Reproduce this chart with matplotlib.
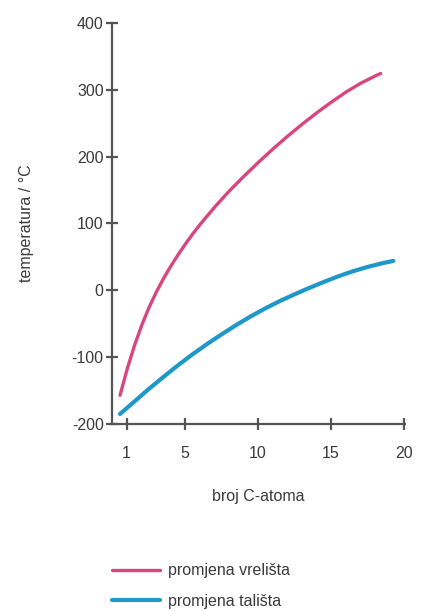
import numpy as np
import matplotlib
matplotlib.use("Agg")
import matplotlib.pyplot as plt

plt.rcParams['font.family'] = ['Liberation Sans', 'DejaVu Sans']
plt.rcParams['axes.unicode_minus'] = False

# values (broj C-atoma, temperatura / °C)
vreliste_x = [0.55, 1.05, 1.55, 2.05, 2.55, 3.05, 3.55, 4.05, 4.55, 5.05,
              5.55, 6.05, 7.05, 8.05, 9.05, 10.05, 11.05, 12.05, 13.05,
              14.05, 15.05, 16.05, 17.05, 18.05, 18.4]
vreliste_y = [-157, -117, -82, -51.5, -25, -2, 18.5, 37, 54, 70,
              85, 99, 125, 149, 171, 192, 212, 231, 249,
              266, 282, 297, 310, 321, 324.5]

taliste_x = [0.55, 1.5, 2.5, 3.5, 4.5, 5.5, 6.5, 7.5, 8.5, 9.5, 10.5,
             11.5, 12.5, 13.5, 14.5, 15.5, 16.5, 17.5, 18.5, 19.27]
taliste_y = [-185, -167, -148, -130, -112.5, -96, -80.5, -66, -52, -39, -27,
             -16, -6, 3.5, 12.5, 21, 28.5, 35, 40.5, 44]

xticks = [1, 5, 10, 15, 20]
yticks = [-200, -100, 0, 100, 200, 300, 400]

pink = '#d9467f'
blue = '#1d98c9'
axis_col = '#555555'
text_col = '#3a3a3a'
fs = 11.5

fig = plt.figure(figsize=(4.21, 6.11), dpi=100)
ax = fig.add_axes([112/421, 1 - 424/611, (405 - 112)/421, (424 - 23)/611])

l1, = ax.plot(vreliste_x, vreliste_y, color=pink, lw=2.4,
              solid_capstyle='round', solid_joinstyle='round')
l2, = ax.plot(taliste_x, taliste_y, color=blue, lw=3.0,
              solid_capstyle='round', solid_joinstyle='round')

ax.set_xlim(0, 20.07)
ax.set_ylim(-200, 400)
ax.set_xticks(xticks)
ax.set_yticks(yticks)

for s in ['top', 'right']:
    ax.spines[s].set_visible(False)
for s in ['left', 'bottom']:
    ax.spines[s].set_color(axis_col)
    ax.spines[s].set_linewidth(1.6)

ax.tick_params(axis='both', direction='inout', length=8, width=1.6,
               color=axis_col, labelcolor=text_col, labelsize=fs)
ax.tick_params(axis='x', pad=12)
ax.tick_params(axis='y', pad=2)

ax.set_xlabel('broj C-atoma', fontsize=fs, color=text_col, labelpad=20)
ax.set_ylabel('temperatura / °C', fontsize=fs, color=text_col, labelpad=27)

fig.legend([l1, l2], ['promjena vrelišta', 'promjena tališta'],
           loc='upper left', bbox_to_anchor=(98/421, 1 - 549/611),
           frameon=False, fontsize=fs, handlelength=3.0, handletextpad=0.5,
           labelspacing=0.95, labelcolor=text_col)

fig.savefig('out.png', dpi=100)
